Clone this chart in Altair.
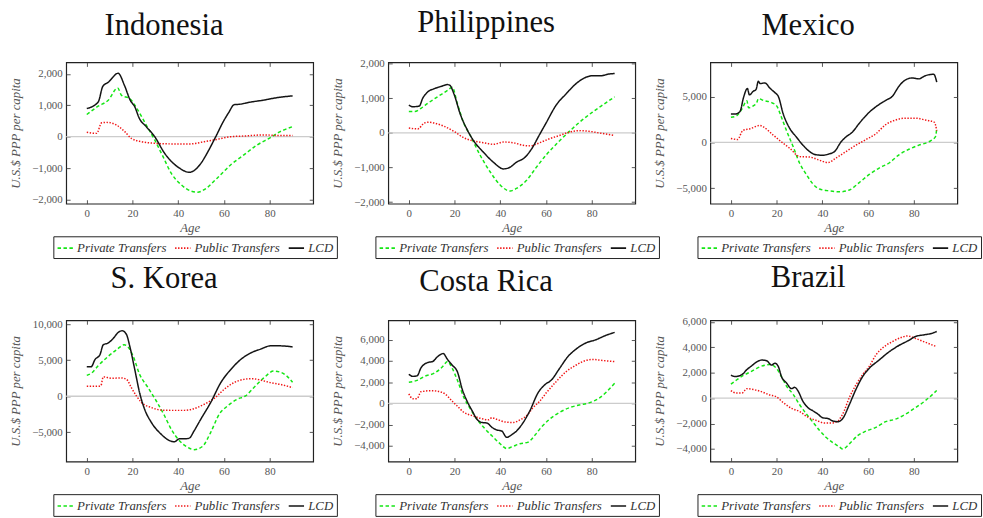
import altair as alt
import pandas as pd

SERIES = ["Private Transfers", "Public Transfers", "LCD"]
COLORS = ["#14e614", "#f01414", "#141414"]
DASHES = [[3.5, 2.5], [1.4, 1.6], [1, 0]]
AGE_TICKS = [0, 20, 40, 60, 80]
COUNTRIES = ["Indonesia", "Philippines", "Mexico", "S. Korea", "Costa Rica", "Brazil"]

# ---------------- Indonesia ----------------
IDN_LCD_AGE = [0, 5, 7, 9.5, 13.7, 16.5, 19, 21, 23, 26, 29.7, 34, 37, 40.5, 44.8, 47, 50, 53, 56.4, 60, 62, 64.5, 66.5, 71.5, 77, 83, 90]
IDN_LCD = [895, 1105, 1600, 1740, 2020, 1630, 1160, 950, 580, 320, 0, -525, -790, -1000, -1135, -1075, -840, -475, 0, 520, 760, 1020, 1030, 1100, 1160, 1240, 1300]
IDN_PRIV_AGE = [0, 5, 9.4, 13.5, 15.2, 18.8, 22.4, 26, 29.7, 33.3, 36.9, 41.2, 45.6, 48.5, 51.4, 57.1, 63, 68.7, 74.5, 80.3, 84.6, 90]
IDN_PRIV = [705, 970, 1160, 1550, 1315, 1210, 840, 370, -105, -630, -1160, -1525, -1735, -1770, -1685, -1315, -895, -580, -265, -30, 160, 320]
IDN_PUB_AGE = [0, 4.3, 6.5, 8.7, 13, 16.6, 19.5, 23.9, 29.7, 36.9, 45.6, 51.4, 57.1, 63, 68.7, 77.4, 84.6, 90]
IDN_PUB = [140, 105, 440, 455, 370, 160, -55, -160, -210, -230, -230, -160, -85, 0, 20, 55, 35, 35]

# ---------------- Philippines ----------------
PHL_LCD_AGE = [0, 1.7, 4.6, 6, 8.2, 11, 14, 16.9, 18, 19.7, 22.6, 25.5, 28.4, 32.7, 37, 41.4, 44.3, 47, 50.7, 53.6, 57.2, 60, 64.4, 68.8, 73, 77.4, 80.3, 84, 87.5, 90]
PHL_LCD = [800, 755, 775, 990, 1180, 1275, 1340, 1395, 1370, 1130, 520, 95, -235, -565, -850, -1040, -990, -850, -710, -470, -45, 285, 800, 1130, 1415, 1605, 1650, 1650, 1700, 1715]
PHL_PRIV_AGE = [0, 2.5, 5.3, 8.2, 12.5, 16.9, 19, 21.2, 24, 27, 31.3, 35.6, 40, 44.3, 47, 51.5, 55.8, 60, 64.4, 69.5, 74.5, 80.3, 85.3, 90]
PHL_PRIV = [615, 615, 710, 850, 1040, 1225, 1320, 850, 285, -95, -660, -1130, -1510, -1680, -1605, -1370, -990, -640, -330, 0, 300, 600, 830, 1040]
PHL_PUB_AGE = [0, 3.9, 6.8, 8.9, 11, 15.4, 19.7, 24, 28.4, 32.7, 37, 41.4, 45.7, 50, 53, 57.2, 61.5, 65.9, 70, 75.2, 78.8, 83, 90]
PHL_PUB = [140, 115, 285, 310, 285, 190, 45, -140, -235, -285, -330, -265, -285, -360, -375, -285, -170, -75, 20, 65, 45, 0, -75]

# ---------------- Mexico ----------------
MEX_LCD_AGE = [0, 1.9, 4, 5.5, 7.2, 8.1, 9.8, 11, 12, 12.7, 14.9, 17, 19.2, 20.7, 22.9, 25.8, 28.6, 31.5, 34.4, 37.3, 40.2, 43, 45.3, 48.2, 50.3, 53.2, 56, 60.5, 63.4, 67.7, 70.6, 73.5, 76.4, 79.3, 82.2, 85, 88.7, 90]
MEX_LCD = [3100, 3100, 3400, 4900, 5900, 5200, 5600, 5800, 6700, 6450, 6500, 5950, 5450, 5050, 3100, 1500, 600, -300, -1000, -1350, -1400, -1250, -1000, 70, 600, 1150, 2050, 3300, 3900, 4600, 5050, 6150, 6850, 7050, 6950, 7300, 7450, 6600]
MEX_PRIV_AGE = [0, 2.6, 4.8, 7, 7.7, 9.8, 11.3, 12, 14.2, 17.8, 20, 22.1, 24.3, 27.2, 30, 33, 35.9, 38.8, 43.1, 47.5, 51.8, 56.1, 60.5, 64.8, 69.2, 73.5, 77.8, 82.2, 86.5, 89.4, 90]
MEX_PRIV = [2750, 2930, 3650, 4550, 3800, 4000, 4350, 4800, 4600, 4350, 4000, 2750, 1300, -450, -2250, -3500, -4550, -5100, -5300, -5400, -5200, -4400, -3500, -2800, -2250, -1350, -750, -300, 70, 600, 1500]
MEX_PUB_AGE = [0, 2.9, 5.2, 8.4, 12.7, 14.2, 18.5, 22.9, 25.8, 30, 34.4, 38.8, 42.4, 46, 50.3, 54.7, 59, 63.4, 67.7, 72, 76.4, 80.7, 85, 89, 90]
MEX_PUB = [430, 320, 1300, 1500, 1850, 1700, 800, -100, -650, -1550, -1600, -1950, -2200, -1700, -1000, -300, 300, 950, 1950, 2450, 2650, 2650, 2450, 2200, 1300]

# ---------------- S. Korea ----------------
KOR_LCD_AGE = [0, 1.9, 3.6, 5.8, 7.2, 9.4, 11.6, 13.7, 15.5, 17.4, 18.8, 21, 23.1, 25.3, 28.2, 32.5, 36.2, 38.3, 40.5, 42.7, 44.8, 47, 49.9, 54.2, 58.6, 62.9, 67.3, 71.6, 76, 80.3, 84.6, 90]
KOR_LCD = [4100, 4100, 5100, 5800, 7150, 7400, 8050, 8850, 9100, 8550, 6950, 3700, 500, -1800, -3600, -5250, -6150, -6300, -5900, -5900, -5800, -4750, -3150, -850, 1900, 3700, 5100, 6000, 6550, 7000, 7000, 6850]
KOR_PRIV_AGE = [0, 2.2, 5, 9.4, 13, 16.3, 18, 20.3, 23.1, 26.8, 30.4, 34, 36.9, 40.5, 44, 47, 50.6, 54.2, 57.9, 61.5, 65.8, 69.4, 73, 77.4, 81.7, 84.6, 87.5, 90]
KOR_PRIV = [2900, 3250, 4250, 5550, 6450, 7150, 6850, 5550, 3050, 1200, -650, -2700, -4550, -6150, -7050, -7400, -6950, -5000, -2500, -1350, -400, 50, 1200, 2550, 3500, 3350, 2800, 1950]
KOR_PUB_AGE = [0, 5, 6.2, 7.2, 10.8, 15.2, 17.4, 19.5, 21.7, 23.9, 28.2, 32.5, 36.9, 42.7, 47, 51.4, 55.7, 60, 64.4, 68.7, 72.3, 76, 80.3, 84.6, 90]
KOR_PUB = [1400, 1400, 1500, 2700, 2500, 2550, 2350, 1200, 50, -850, -1550, -1900, -1950, -1950, -1700, -1100, -300, 950, 1900, 2350, 2450, 2250, 1900, 1650, 1200]

# ---------------- Costa Rica ----------------
CRI_LCD_AGE = [0, 1.7, 3.6, 5.3, 8.2, 10.4, 12.5, 15, 16.9, 19, 21.2, 23.4, 25.5, 27.7, 29.8, 32, 34.2, 36.3, 38.5, 40.6, 42.8, 45, 47.1, 50, 52.9, 56.5, 59.4, 62.3, 65.9, 69.5, 73, 77.4, 81.7, 86, 90]
CRI_LCD = [2750, 2550, 2600, 3350, 3850, 3950, 4400, 4700, 4150, 3600, 3000, 1300, 200, -700, -1500, -1800, -1850, -2250, -2500, -2600, -3200, -2950, -2600, -1800, -700, 1000, 1750, 2200, 3300, 4400, 5100, 5700, 6000, 6400, 6700]
CRI_PRIV_AGE = [0, 3.9, 6.8, 11.1, 14.7, 16.9, 19, 21.2, 24.1, 27, 29.8, 32.7, 37, 39.9, 42.8, 45, 48.6, 52.2, 55.1, 57.9, 61.5, 65.9, 70.2, 74.5, 78.8, 83.2, 90]
CRI_PRIV = [2000, 2200, 2550, 2850, 3450, 3950, 3300, 2200, 550, -550, -1500, -2250, -3200, -3800, -4250, -4100, -3800, -3650, -3000, -2250, -1500, -850, -400, -150, 50, 500, 1900]
CRI_PUB_AGE = [0, 1.7, 3.6, 5.3, 9.7, 12.5, 16.1, 19, 21.2, 24.1, 27.7, 31.3, 34.9, 36.3, 38.5, 42.1, 45.7, 48.6, 51.5, 54.3, 57.2, 60.1, 64.4, 68.8, 73, 77.4, 80.3, 84.6, 90]
CRI_PUB = [900, 450, 450, 1100, 1200, 1150, 850, 200, -250, -850, -1150, -1400, -1550, -1350, -1500, -1750, -1800, -1550, -1150, -400, 200, 1000, 2050, 3000, 3600, 4050, 4150, 4050, 3950]

# ---------------- Brazil ----------------
BRA_LCD_AGE = [0, 1.9, 4.8, 7, 9.1, 11.3, 13.5, 15.6, 17.8, 19.2, 20.7, 22.1, 24.3, 26.5, 27.9, 29.4, 31.5, 33.7, 35.9, 38, 40.2, 42.4, 44.6, 46.7, 48.9, 51.8, 54.7, 57.6, 60.5, 64.8, 69.2, 73.5, 77.8, 80.7, 85, 87.9, 90]
BRA_LCD = [1800, 1700, 1850, 2250, 2550, 2850, 3000, 2950, 2600, 2750, 2500, 1700, 1200, 750, 850, 550, -250, -750, -1000, -1250, -1550, -1600, -1800, -1850, -1600, -500, 700, 1700, 2350, 3000, 3650, 4150, 4550, 4850, 5000, 5100, 5250]
BRA_PRIV_AGE = [0, 2.6, 5.5, 8.4, 11.3, 14.9, 17, 19.9, 22.1, 24.3, 27.2, 30, 33, 35.9, 38.8, 41.7, 44.6, 47.5, 48.9, 51.8, 55.4, 59, 63.4, 67.7, 72, 76.4, 80.7, 85, 90]
BRA_PRIV = [1100, 1450, 1800, 2050, 2350, 2600, 2650, 2350, 1700, 950, 300, -500, -1250, -1900, -2550, -3100, -3500, -3850, -4000, -3600, -2950, -2600, -2300, -1850, -1650, -1250, -750, -200, 600]
BRA_PUB_AGE = [0, 2.3, 4.8, 7, 9.1, 12.7, 17, 19.9, 22.9, 26.5, 30, 33.7, 37.3, 40.9, 44.6, 46.7, 48.9, 51.8, 54.7, 57.6, 60.5, 63.4, 66.3, 70.6, 74.9, 77.1, 80.7, 85, 90]
BRA_PUB = [600, 400, 400, 750, 700, 550, 250, 100, -350, -800, -1050, -1500, -1750, -1950, -1950, -1800, -1250, 50, 1050, 1850, 2500, 3400, 3950, 4450, 4800, 4900, 4700, 4400, 4050]

# y-axis domains and tick values per panel
Y_DOMAINS = {
    "Indonesia": [-2135, 2365], "Philippines": [-2045, 2035], "Mexico": [-6700, 8750],
    "S. Korea": [-9050, 10550], "Costa Rica": [-5480, 7840], "Brazil": [-4990, 6130],
}
Y_TICKS = {
    "Indonesia": [-2000, -1000, 0, 1000, 2000], "Philippines": [-2000, -1000, 0, 1000, 2000],
    "Mexico": [-5000, 0, 5000], "S. Korea": [-5000, 0, 5000, 10000],
    "Costa Rica": [-4000, -2000, 0, 2000, 4000, 6000], "Brazil": [-4000, -2000, 0, 2000, 4000, 6000],
}

SOURCES = {
    "Indonesia": [(IDN_PRIV_AGE, IDN_PRIV), (IDN_PUB_AGE, IDN_PUB), (IDN_LCD_AGE, IDN_LCD)],
    "Philippines": [(PHL_PRIV_AGE, PHL_PRIV), (PHL_PUB_AGE, PHL_PUB), (PHL_LCD_AGE, PHL_LCD)],
    "Mexico": [(MEX_PRIV_AGE, MEX_PRIV), (MEX_PUB_AGE, MEX_PUB), (MEX_LCD_AGE, MEX_LCD)],
    "S. Korea": [(KOR_PRIV_AGE, KOR_PRIV), (KOR_PUB_AGE, KOR_PUB), (KOR_LCD_AGE, KOR_LCD)],
    "Costa Rica": [(CRI_PRIV_AGE, CRI_PRIV), (CRI_PUB_AGE, CRI_PUB), (CRI_LCD_AGE, CRI_LCD)],
    "Brazil": [(BRA_PRIV_AGE, BRA_PRIV), (BRA_PUB_AGE, BRA_PUB), (BRA_LCD_AGE, BRA_LCD)],
}

rows = []
for country in COUNTRIES:
    for s, (ages, vals) in zip(SERIES, SOURCES[country]):
        for a, v in zip(ages, vals):
            rows.append({"country": country, "series": s, "age": a, "value": v})
df = pd.DataFrame(rows)

SERIF = "Liberation Serif"
GRAY = "#555555"
TITLE_OFFSETS = {"Indonesia": 20.5, "Philippines": 19, "Mexico": 20.5, "S. Korea": 24, "Costa Rica": 22.5, "Brazil": 22}


def panel(country):
    d = df[df.country == country]
    xscale = alt.Scale(domain=[-9, 99], nice=False, zero=False)
    yscale = alt.Scale(domain=Y_DOMAINS[country], nice=False, zero=False)
    legend = alt.Legend(
        title=None, orient="none", legendX=-13, legendY=176, direction="horizontal",
        columns=3, symbolType="stroke", symbolSize=240, symbolStrokeWidth=1.6,
        labelFont=SERIF, labelFontStyle="italic", labelFontSize=13, labelColor="#333333",
        columnPadding=5, padding=3, labelOffset=3, strokeColor="#222222",
        fillColor="white",
    )
    zero = alt.Chart(pd.DataFrame({"value": [0]})).mark_rule(
        color="#cccccc", strokeWidth=1.4
    ).encode(y=alt.Y("value:Q", scale=yscale, axis=None))
    lines = alt.Chart(d).mark_line(strokeWidth=1.5, interpolate="monotone").encode(
        x=alt.X("age:Q", scale=xscale, axis=alt.Axis(
            orient="bottom", values=AGE_TICKS, title="Age", offset=-4, tickSize=4,
            labelPadding=4, titlePadding=3)),
        y=alt.Y("value:Q", scale=yscale, axis=alt.Axis(
            orient="left", values=Y_TICKS[country], format=",.0f", title="U.S.$ PPP per capita",
            offset=-4, tickSize=4, labelPadding=4, titlePadding=8, minExtent=40, maxExtent=40)),
        color=alt.Color("series:N", scale=alt.Scale(domain=SERIES, range=COLORS), legend=legend),
        strokeDash=alt.StrokeDash("series:N", scale=alt.Scale(domain=SERIES, range=DASHES), legend=legend),
    )
    ticks = alt.Chart(d).mark_point(opacity=0).encode(
        x=alt.X("age:Q", scale=xscale, axis=alt.Axis(
            orient="top", values=AGE_TICKS, labels=False, title=None, offset=-4, tickSize=4)),
        y=alt.Y("value:Q", scale=yscale, axis=alt.Axis(
            orient="right", values=Y_TICKS[country], labels=False, title=None, offset=-4, tickSize=4)),
    )
    return alt.layer(zero, lines, ticks).resolve_axis(x="independent", y="independent").properties(
        width=250, height=143,
        title=alt.Title(country, font=SERIF, fontSize=31, fontWeight="normal", color="#111111",
                        anchor="middle", dx=-26, offset=TITLE_OFFSETS[country]),
    )


chart = alt.concat(
    *[panel(c) for c in COUNTRIES], columns=3, spacing={"row": 118, "column": 76}, bounds="flush"
).resolve_scale(
    x="independent", y="independent", color="independent", strokeDash="independent"
).resolve_legend(color="independent", strokeDash="independent").configure_axis(
    labelFont=SERIF, labelFontSize=11, labelColor=GRAY, titleFont=SERIF, titleFontStyle="italic",
    titleFontWeight="normal", titleFontSize=13, titleColor=GRAY, tickColor="#444444",
    tickWidth=0.9, grid=False, domain=False,
).configure_view(stroke="#222222", strokeWidth=1.2).properties(
    padding={"left": 9, "top": 3, "right": 0, "bottom": 0}
)

chart.save("out.html", embed_options={"renderer": "svg", "actions": False})
